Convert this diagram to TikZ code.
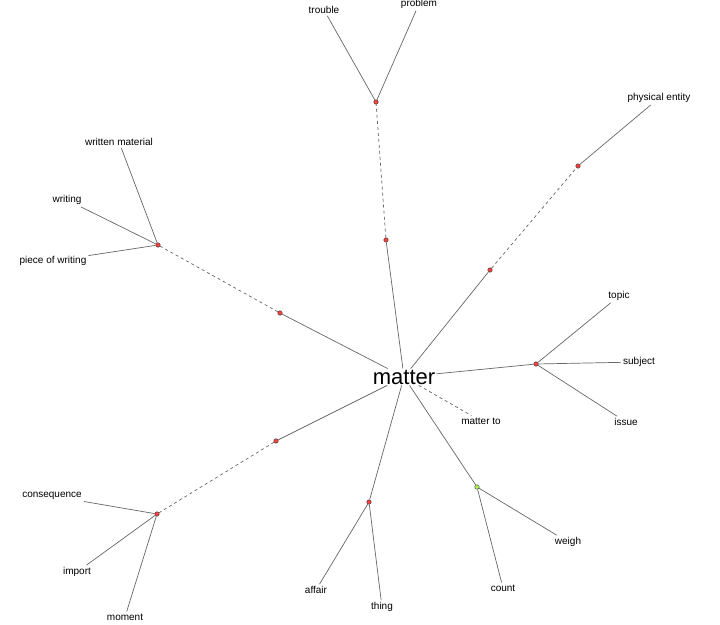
\documentclass[tikz,border=0pt]{standalone}
\usepackage{fontspec}
\setmainfont{Liberation Sans}
\usetikzlibrary{positioning}

\begin{document}
\begin{tikzpicture}[
    x=1pt, y=-1pt,
    word/.style={font=\fontsize{10}{12}\selectfont, inner sep=2pt},
    hub/.style={circle, draw=black!80, fill=red!75!white, inner sep=0pt, minimum size=4.5pt, thin},
    verbhub/.style={hub, fill=green!45!yellow!70!white},
    link/.style={draw=black!60, line width=0.7pt},
    dlink/.style={link, dashed}
]
\useasboundingbox (0,0) rectangle (720,624);

% centre
\node[font=\fontsize{22}{26}\selectfont, inner sep=1pt] (matter) at (404,377) {matter};

% hubs
\node[hub] (h1) at (280,313) {};
\node[hub] (h2) at (158,245) {};
\node[hub] (h3) at (386,240) {};
\node[hub] (h4) at (376,102) {};
\node[hub] (h5) at (490,270) {};
\node[hub] (h6) at (578,166) {};
\node[hub] (h7) at (536,364) {};
\node[hub] (h8) at (276,441) {};
\node[hub] (h9) at (157,514) {};
\node[hub] (h10) at (369,502) {};
\node[verbhub] (h11) at (477,487) {};

% words
\node[word] (trouble) at (324,10) {trouble};
\node[word] (problem) at (419,4) {problem};
\node[word] (physent) at (659,98) {physical entity};
\node[word] (written) at (119,142) {written material};
\node[word] (writing) at (67,200) {writing};
\node[word] (piece) at (53,261) {piece of writing};
\node[word] (topic) at (619,296) {topic};
\node[word] (subject) at (639,362) {subject};
\node[word] (issue) at (626,422) {issue};
\node[word] (matterto) at (481,421) {matter to};
\node[word] (conseq) at (52,496) {consequence};
\node[word] (import) at (77,572) {import};
\node[word] (moment) at (125,617) {moment};
\node[word] (affair) at (316,590) {affair};
\node[word] (thing) at (382,607) {thing};
\node[word] (count) at (503,588) {count};
\node[word] (weigh) at (568,542) {weigh};

% writing branch
\draw[link] (matter) -- (h1);
\draw[dlink] (h1) -- (h2);
\draw[link] (h2) -- (written);
\draw[link] (h2) -- (writing);
\draw[link] (h2) -- (piece);

% problem branch
\draw[link] (matter) -- (h3);
\draw[dlink] (h3) -- (h4);
\draw[link] (h4) -- (trouble);
\draw[link] (h4) -- (problem);

% entity branch
\draw[link] (matter) -- (h5);
\draw[dlink] (h5) -- (h6);
\draw[link] (h6) -- (physent);

% topic branch
\draw[link] (matter) -- (h7);
\draw[link] (h7) -- (topic);
\draw[link] (h7) -- (subject);
\draw[link] (h7) -- (issue);

\draw[dlink] (matter) -- (matterto);

% consequence branch
\draw[link] (matter) -- (h8);
\draw[dlink] (h8) -- (h9);
\draw[link] (h9) -- (conseq);
\draw[link] (h9) -- (import);
\draw[link] (h9) -- (moment);

% affair branch
\draw[link] (matter) -- (h10);
\draw[link] (h10) -- (affair);
\draw[link] (h10) -- (thing);

% verb branch
\draw[link] (matter) -- (h11);
\draw[link] (h11) -- (count);
\draw[link] (h11) -- (weigh);
\end{tikzpicture}
\end{document}
